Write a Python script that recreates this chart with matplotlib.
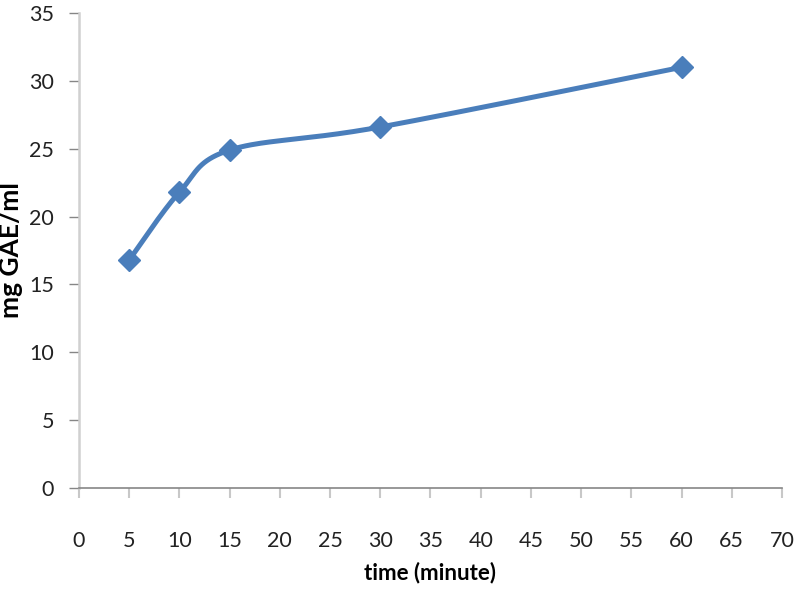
import numpy as np
import matplotlib.pyplot as plt

# data
time_min = [5, 10, 15, 30, 60]
gae = [16.8, 21.8, 24.9, 26.6, 31.0]

xticks = list(range(0, 75, 5))
yticks = list(range(0, 40, 5))


def smooth(x, y, n=40):
    # excel-like smoothed line (catmull-rom bezier through the points)
    x = np.asarray(x, float)
    y = np.asarray(y, float)
    px = np.concatenate([[x[0]], x, [x[-1]]])
    py = np.concatenate([[y[0]], y, [y[-1]]])
    xs, ys = [], []
    t = np.linspace(0, 1, n)
    for i in range(1, len(px) - 2):
        p0 = np.array([px[i], py[i]])
        p3 = np.array([px[i + 1], py[i + 1]])
        p1 = p0 + (np.array([px[i + 1], py[i + 1]]) - np.array([px[i - 1], py[i - 1]])) / 6
        p2 = p3 - (np.array([px[i + 2], py[i + 2]]) - np.array([px[i], py[i]])) / 6
        b = ((1 - t) ** 3)[:, None] * p0 + (3 * (1 - t) ** 2 * t)[:, None] * p1 \
            + (3 * (1 - t) * t ** 2)[:, None] * p2 + (t ** 3)[:, None] * p3
        xs.extend(b[:, 0])
        ys.extend(b[:, 1])
    return xs, ys


plt.rcParams['font.family'] = ['Lato', 'DejaVu Sans']

fig = plt.figure(figsize=(7.96, 5.92), dpi=100)
ax = fig.add_axes([0.0992, 0.1757, 0.8832, 0.8023])

sx, sy = smooth(time_min, gae)
ax.plot(sx, sy, color='#4a7ebb', lw=3.6, solid_capstyle='round', zorder=3)
ax.plot(time_min, gae, linestyle='none', marker='D', ms=11,
        color='#4a7ebb', zorder=4)

ax.set_xlim(0, 70)
ax.set_ylim(0, 35)
ax.set_xticks(xticks)
ax.set_yticks(yticks)

for s in ['top', 'right']:
    ax.spines[s].set_visible(False)
ax.spines['left'].set_color('#d0d0d0')
ax.spines['left'].set_linewidth(1.8)
ax.spines['bottom'].set_color('#868686')
ax.spines['bottom'].set_linewidth(1.2)

ax.tick_params(axis='x', direction='out', length=7, width=1.5, color='#c8c8c8',
               pad=24, labelsize=15.5, labelcolor='#222222')
ax.tick_params(axis='y', direction='out', length=7, width=1.0, color='#868686',
               pad=11, labelsize=15.5, labelcolor='#222222')

ax.set_xlabel('time (minute)', fontsize=16, fontweight='bold', labelpad=8)
ax.set_ylabel('mg GAE/ml', fontsize=19, fontweight='bold', va='center')
ax.yaxis.set_label_coords(-0.096, 0.5)

fig.savefig('out.png', dpi=100)
